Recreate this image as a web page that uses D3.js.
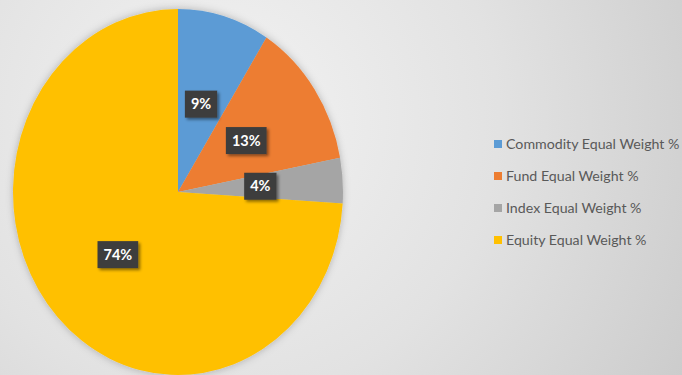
<!DOCTYPE html>
<html>
<head>
<meta charset="utf-8">
<script src="https://cdn.jsdelivr.net/npm/d3@7/dist/d3.min.js"></script>
<style>
  html, body { margin: 0; padding: 0; }
  body { width: 682px; height: 375px; overflow: hidden; }
  svg { display: block; }
</style>
</head>
<body>
<svg id="chart" width="682" height="375"></svg>
<script>
// Portfolio weighting mix
const categories = ["Commodity Equal Weight %", "Fund Equal Weight %", "Index Equal Weight %", "Equity Equal Weight %"];
const values = [9, 13, 4, 74];
const valueLabels = ["9%", "13%", "4%", "74%"];
const colors = ["#5B9BD5", "#ED7D31", "#A5A5A5", "#FFC000"];

const W = 682, H = 375;
const svg = d3.select("#chart");
const defs = svg.append("defs");

// soft grey backdrop
const bg = defs.append("radialGradient").attr("id", "bg")
  .attr("gradientUnits", "userSpaceOnUse")
  .attr("cx", 220).attr("cy", 120).attr("r", 620);
bg.append("stop").attr("offset", "0%").attr("stop-color", "#f3f3f3");
bg.append("stop").attr("offset", "45%").attr("stop-color", "#e2e2e2");
bg.append("stop").attr("offset", "100%").attr("stop-color", "#c4c4c4");
svg.append("rect").attr("width", W).attr("height", H).attr("fill", "url(#bg)");

const pieShadow = defs.append("filter").attr("id", "pieShadow")
  .attr("x", "-20%").attr("y", "-20%").attr("width", "140%").attr("height", "140%");
pieShadow.append("feDropShadow").attr("dx", 0).attr("dy", 0).attr("stdDeviation", 4)
  .attr("flood-color", "#000").attr("flood-opacity", 0.25);

const boxShadow = defs.append("filter").attr("id", "boxShadow")
  .attr("x", "-30%").attr("y", "-30%").attr("width", "170%").attr("height", "170%");
boxShadow.append("feDropShadow").attr("dx", 2).attr("dy", 2).attr("stdDeviation", 1.5)
  .attr("flood-color", "#000").attr("flood-opacity", 0.45);

// pie is drawn slightly squashed horizontally
const cx = 178, cy = 192, ry = 183, rx = 165;
const sx = rx / ry;

const pie = d3.pie().sort(null).value(d => d)(values);
const arc = d3.arc().innerRadius(0).outerRadius(ry);

const pieG = svg.append("g").attr("transform", `translate(${cx},${cy}) scale(${sx},1)`);
pieG.append("g").attr("filter", "url(#pieShadow)")
  .selectAll("path").data(pie).join("path")
  .attr("d", arc)
  .attr("fill", (d, i) => colors[i]);

// value labels on dark boxes at slice centroids
const labelG = svg.append("g").attr("transform", `translate(${cx},${cy})`);
const font = "Lato, 'Open Sans', sans-serif";
pie.forEach((d, i) => {
  const [px, py] = arc.centroid(d);
  const x = px * sx, y = py;
  const g = labelG.append("g").attr("transform", `translate(${x},${y})`);
  const t = g.append("text")
    .attr("text-anchor", "middle").attr("dy", "0.36em")
    .attr("font-family", font).attr("font-weight", "bold").attr("font-size", 14.5)
    .attr("fill", "#ffffff").text(valueLabels[i]);
  const w = t.node().getComputedTextLength() + 12;
  g.insert("rect", "text")
    .attr("x", -w / 2).attr("y", -13.5).attr("width", w).attr("height", 27)
    .attr("fill", "#3d3d3d").attr("filter", "url(#boxShadow)");
});

// legend
const legendY = d3.scalePoint().domain(categories).range([144, 240]);
const legend = svg.append("g");
const items = legend.selectAll("g").data(categories).join("g")
  .attr("transform", d => `translate(494,${legendY(d)})`);
items.append("rect").attr("x", 0).attr("y", -4).attr("width", 8).attr("height", 8)
  .attr("fill", (d, i) => colors[i]);
items.append("text").attr("x", 12).attr("dy", "0.35em")
  .attr("font-family", font).attr("font-size", 14.2).attr("fill", "#595959")
  .text(d => d);
</script>
</body>
</html>
